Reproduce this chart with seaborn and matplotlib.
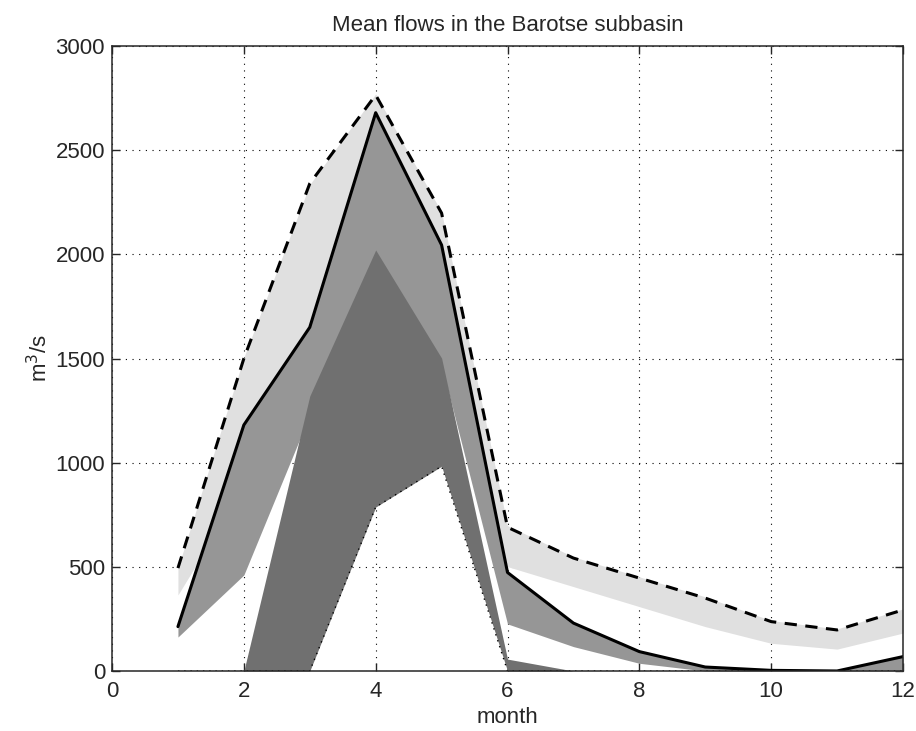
import matplotlib
matplotlib.use('Agg')
import matplotlib.pyplot as plt
import seaborn as sns

# monthly flows, m3/s
months = [1, 2, 3, 4, 5, 6, 7, 8, 9, 10, 11, 12]
flow_max = [494, 1500, 2340, 2765, 2198, 690, 542, 446, 350, 237, 197, 293]
flow_mean = [213, 1181, 1650, 2680, 2045, 473, 230, 93, 19, 3, 0, 69]
flow_min = [0, 0, 0, 787, 983, 0, 0, 0, 0, 0, 0, 0]

# shaded ranges
light_lo = [365, 885, 1300, 1700, 1500, 501, 405, 309, 213, 133, 105, 182]
light_hi = [494, 1505, 2335, 2770, 2202, 698, 548, 452, 356, 242, 202, 298]
mid_lo = [163, 461, 1230, 1600, 1470, 226, 117, 37, 0, 0, 0, 0]
mid_hi = flow_mean
dark_lo = flow_min
dark_hi = [0, 0, 1320, 2021, 1502, 57, 0, 0, 0, 0, 0, 0]

xticks = [0, 2, 4, 6, 8, 10, 12]
yticks = [0, 500, 1000, 1500, 2000, 2500, 3000]

sns.set_style('ticks')
plt.rcParams['font.family'] = ['Liberation Sans', 'DejaVu Sans']
plt.rcParams['font.size'] = 16

fig = plt.figure(figsize=(9.16, 7.31), dpi=100)
ax = fig.add_axes([0.1223, 0.0821, 0.8635, 0.8549])

# bands
ax.fill_between(months, light_lo, light_hi, color='#e0e0e0', lw=0, zorder=1)
ax.fill_between(months, mid_lo, mid_hi, color='#969696', lw=0, zorder=2)
ax.fill_between(months, dark_lo, dark_hi, color='#707070', lw=0, zorder=3)

# lines
sns.lineplot(x=months, y=flow_max, ax=ax, color='black', lw=2.2,
             legend=False, zorder=5).lines[-1].set_dashes((4.0, 2.8))
sns.lineplot(x=months, y=flow_mean, ax=ax, color='black', lw=2.2,
             legend=False, zorder=5)
sns.lineplot(x=months, y=flow_min, ax=ax, color='black', lw=1.0,
             legend=False, zorder=5).lines[-1].set_dashes((1, 3.5))

ax.set_xlim(0, 12)
ax.set_ylim(0, 3000)
ax.set_xticks(xticks)
ax.set_yticks(yticks)
ax.grid(True, color='black', linestyle=(0, (1, 5)), linewidth=0.8)
ax.set_axisbelow(True)

for side in ['top', 'right', 'bottom', 'left']:
    ax.spines[side].set_visible(True)
    ax.spines[side].set_linewidth(1.1)
    ax.spines[side].set_zorder(6)
ax.tick_params(direction='in', length=6, width=1, top=True, right=True,
               labelsize=16)
ax.tick_params(axis='x', pad=7)
ax.tick_params(axis='y', pad=5)

ax.set_title('Mean flows in the Barotse subbasin', fontsize=16, pad=11)
ax.set_xlabel('month', fontsize=16, labelpad=4)
ax.set_ylabel('m$^3$/s', fontsize=16, labelpad=2)

fig.savefig('out.png', dpi=100)
